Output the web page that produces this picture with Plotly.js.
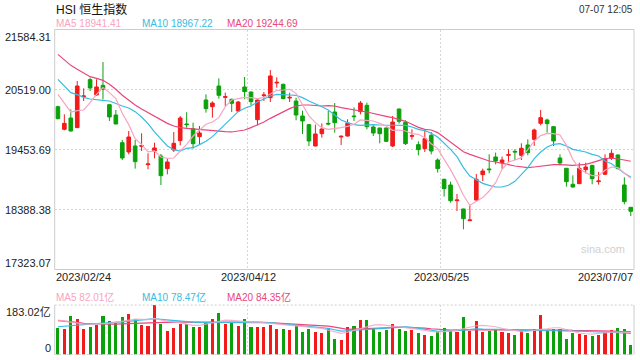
<!DOCTYPE html>
<html><head><meta charset="utf-8">
<script src="https://cdn.plot.ly/plotly-3.0.1.min.js"></script>
<style>html,body{margin:0;padding:0;background:#fff;}#chart{width:640px;height:360px;}</style>
</head><body><div id="chart"></div>
<script>
const titleText = 'HSI 恒生指数';
const timeText = '07-07 12:05';
const dateLabels = ['2023/02/24','2023/04/12','2023/05/25','2023/07/07'];
const priceTicks = [21584.31, 20519.00, 19453.69, 18388.38, 17323.07];
const volTicks = [183.02, 0];
const priceLegend = ['MA5 18941.41', 'MA10 18967.22', 'MA20 19244.69'];
const volLegend = ['MA5 82.01亿', 'MA10 78.47亿', 'MA20 84.35亿'];

const openP = [20214,19812,20013,19842,20392,20694,20422,20593,20250,20066,
19575,19410,19516,19510,19185,19427,19339,19114,19445,19611,
19907,19824,19682,20333,20214,20581,20380,20345,20137,20564,
20475,19984,20410,20374,20635,20611,20368,20315,20049,19895,
19516,19735,19918,20120,19676,19693,20049,20126,20238,19853,
19836,19836,19516,20173,19936,19688,19540,19469,19705,19267,
18924,18824,18545,18398,18190,18557,19007,19108,19321,19220,
19350,19421,19350,19534,19634,19918,19978,19859,19303,19120,
18836,18847,19096,19173,18883,19013,19297,19356,18824,18427];
const highP = [20232,20078,20167,20670,20540,20729,20700,21007,20255,20155,
19623,19782,19623,19741,19386,19575,19374,19291,19765,20049,
20114,19930,19871,20433,20309,20717,20463,20356,20315,20741,
20480,20340,20475,20865,20735,20623,20463,20374,20143,19900,
19895,19918,20137,20279,19705,19990,20202,20315,20285,19883,
19840,19840,20049,20178,19972,19812,19599,19800,19765,19297,
18936,18883,18664,18402,18463,19019,19114,19368,19398,19327,
19457,19457,19563,19634,19824,20155,20001,19865,19368,19125,
18995,19220,19220,19178,19055,19368,19451,19368,18960,18432];
const lowP = [19990,19794,19775,19836,20315,20493,20404,20345,19960,19900,
19268,19368,19114,19427,19102,19297,18824,19013,19410,19528,
19842,19469,19546,20108,20019,20356,20226,20120,20120,20345,
20238,19883,20315,20297,20552,20345,20297,19972,19729,19516,
19510,19664,19883,19753,19534,19682,19960,20078,19812,19693,
19563,19587,19498,19913,19534,19628,19350,19410,19368,19043,
18617,18510,18362,18037,18184,18540,18895,19031,19191,19114,
19232,19267,19267,19350,19516,19883,19753,19516,19173,18794,
18776,18840,19031,18836,18830,19007,19267,19102,18480,18273];
const closeP = [20001,19918,19782,20581,20404,20546,20564,20522,20031,19907,
19303,19676,19238,19522,19197,19481,18989,19232,19563,20013,
19895,19557,19747,20179,20279,20416,20392,20274,20297,20481,
20303,20333,20422,20759,20646,20356,20380,20066,19960,19605,
19729,19818,19907,19930,19688,19918,20037,20279,19859,19747,
19735,19599,19942,19954,19557,19699,19451,19646,19427,19114,
18759,18545,18557,18226,18202,18924,19072,19096,19250,19267,
19362,19410,19475,19398,19800,20019,19913,19605,19214,18883,
18788,19120,19143,18936,18895,19291,19386,19114,18528,18356];
const ma5 = [20433,20268,20120,20143,20155,20285,20433,20552,20463,20356,
20096,19895,19646,19546,19410,19427,19321,19297,19303,19427,
19546,19693,19800,19901,19942,20019,20214,20333,20356,20380,
20374,20356,20374,20433,20504,20510,20522,20451,20256,20049,
19930,19842,19812,19824,19842,19865,19901,19978,19970,19960,
19918,19871,19794,19800,19782,19735,19723,19664,19557,19469,
19279,19096,18883,18640,18463,18528,18599,18717,18865,19102,
19232,19267,19309,19450,19600,19700,19740,19735,19711,19528,
19279,19114,19040,18990,18990,19084,19143,19131,19043,18941];
const ma10 = [20700,20581,20463,20427,20380,20350,20333,20327,20315,20268,
20226,20191,20126,20031,19913,19765,19646,19516,19451,19427,
19475,19486,19540,19599,19682,19794,19918,20031,20126,20185,
20226,20297,20356,20404,20433,20433,20421,20416,20374,20315,
20268,20214,20155,20072,19978,19930,19895,19883,19895,19895,
19889,19889,19889,19889,19883,19853,19812,19788,19741,19676,
19575,19457,19327,19131,18983,18912,18853,18818,18788,18788,
18818,18889,19013,19131,19291,19410,19498,19546,19558,19516,
19457,19439,19410,19368,19339,19250,19202,19114,19031,18967];
const ma20 = [21143,21043,20948,20877,20806,20747,20717,20682,20611,20522,
20416,20327,20244,20173,20108,20043,19984,19918,19871,19842,
19830,19818,19806,19794,19782,19776,19771,19765,19776,19800,
19842,19889,19942,20007,20066,20120,20179,20226,20244,20244,
20232,20226,20232,20226,20197,20173,20161,20137,20120,20090,
20066,20043,20019,19990,19954,19901,19847,19812,19800,19753,
19670,19587,19498,19415,19368,19327,19285,19250,19232,19202,
19185,19161,19143,19131,19143,19161,19179,19185,19185,19173,
19173,19179,19191,19220,19256,19291,19303,19291,19267,19245];
const volume = [97.7,94,142,131,94,101,109,142,124,116,
138,150,131,109,105,183.02,112.5,86.6,97.7,112.5,
112.5,101,101,116,131,153,112.5,120,105,131,
101,101,101,109,94,94,90,109,83,94,
83,79,97.7,57,53,101,105,127,127,94,
83,90,112.5,94,86.6,90,79,72,68,86.6,
97.7,86.6,83,138,86.6,124,83,86.6,90,83,
79,72,86.6,79,94,146,86.6,94,94,57,
79,75,72,68,72,83,90,97.7,94,35];
const vma5 = [127.4,123.7,120.0,116.2,112.5,112.5,112.5,113.8,115.0,118.7,
123.7,128.6,131.1,129.8,128.6,133.6,127.4,122.4,121.2,117.5,
112.5,107.6,107.6,112.5,120.0,124.9,127.4,126.1,123.7,122.4,
120.0,120.0,117.5,115.0,112.5,112.5,110.1,107.6,105.1,102.6,
98.9,96.5,90.3,84.1,77.9,82.9,89.0,95.2,102.6,108.8,
110.1,107.6,106.3,102.6,100.2,96.5,92.7,87.8,85.3,82.9,
84.1,86.6,90.3,96.5,102.6,106.3,107.6,106.3,102.6,96.5,
92.7,87.8,84.1,85.3,90.3,92.7,95.2,98.9,98.9,92.7,
84.1,79.1,76.7,75.4,77.9,81.6,82.9,82.9,81.6,82.01];
const vma10 = [102.6,105.1,106.3,108.8,111.3,112.5,113.8,115.0,116.2,118.7,
120.0,122.4,124.9,127.4,129.8,132.3,129.8,127.4,124.9,122.4,
120.0,120.0,118.7,118.7,117.5,117.5,117.5,117.5,117.5,117.5,
117.5,117.5,117.5,117.5,115.0,112.5,110.1,107.6,105.1,103.9,
101.4,100.2,96.5,91.5,86.6,87.8,89.0,91.5,94.0,95.2,
96.5,97.7,100.2,101.4,102.6,100.2,97.7,95.2,90.3,85.3,
86.0,85.3,87.8,90.3,92.7,95.2,94.0,94.0,92.7,92.7,
92.7,91.5,90.3,89.0,89.0,87.8,87.8,87.8,87.8,87.8,
87.8,86.6,85.3,84.1,84.1,82.9,81.6,80.4,79.1,78.47];
const vma20 = [124.9,123.7,121.2,118.7,115.0,113.8,112.5,112.5,112.5,112.5,
112.5,113.8,115.0,116.2,117.5,118.7,120.0,120.0,120.0,120.0,
120.0,120.0,121.2,121.2,122.4,122.4,122.4,121.2,121.2,120.0,
120.0,120.0,118.7,117.5,116.2,115.0,112.5,111.3,110.1,108.8,
107.6,107.6,105.1,101.4,97.7,92.7,94.0,95.2,96.5,97.7,
97.7,98.9,98.9,100.2,100.2,100.2,98.9,97.7,95.2,92.7,
90.3,90.3,91.5,91.5,92.7,92.7,92.7,92.7,92.7,92.7,
92.7,92.7,92.7,92.7,92.7,92.7,91.5,91.5,90.3,90.3,
89.0,89.0,87.8,87.8,87.8,86.6,86.6,85.3,85.3,84.35];

const idx = openP.map((_, i) => i);
const RED = '#f21b1b', GREEN = '#0ba10b';
const C5 = '#f8a5c2', C10 = '#36bde0', C20 = '#e9467c';
const FONT = 'Liberation Sans, Arial, Noto Sans CJK SC, sans-serif';
const volColors = idx.map(i => closeP[i] >= openP[i] ? RED : GREEN);

const X0 = 54.7/640, X1 = 634/640;
const PY = [(360-269.5)/360, (360-29.5)/360];
const VY = [(360-354.5)/360, (360-305)/360];
const px = v => v/640, py = v => (360 - v)/360;

const traces = [
  {type:'candlestick', x: idx, open: openP, high: highP, low: lowP, close: closeP,
   xaxis:'x', yaxis:'y', hoverinfo:'skip', whiskerwidth: 0,
   increasing:{line:{color:RED, width:1}, fillcolor:RED},
   decreasing:{line:{color:GREEN, width:1}, fillcolor:GREEN}},
  {type:'scatter', mode:'lines', x: idx, y: ma20, line:{color:C20, width:1.2}, xaxis:'x', yaxis:'y', hoverinfo:'skip'},
  {type:'scatter', mode:'lines', x: idx, y: ma10, line:{color:C10, width:1.2}, xaxis:'x', yaxis:'y', hoverinfo:'skip'},
  {type:'scatter', mode:'lines', x: idx, y: ma5, line:{color:C5, width:1.2}, xaxis:'x', yaxis:'y', hoverinfo:'skip'},
  {type:'bar', x: idx, y: volume, width: 0.48, marker:{color: volColors, line:{width:0}}, xaxis:'x2', yaxis:'y2', hoverinfo:'skip'},
  {type:'scatter', mode:'lines', x: idx, y: vma20, line:{color:C20, width:1.2}, xaxis:'x2', yaxis:'y2', hoverinfo:'skip'},
  {type:'scatter', mode:'lines', x: idx, y: vma10, line:{color:C10, width:1.2}, xaxis:'x2', yaxis:'y2', hoverinfo:'skip'},
  {type:'scatter', mode:'lines', x: idx, y: vma5, line:{color:C5, width:1.2, }, opacity:0.85, xaxis:'x2', yaxis:'y2', hoverinfo:'skip'}
];

const n = idx.length;
const gridX = [n/3 - 0.5, 2*n/3 - 0.5];
const GRID = '#d6d6d6';
const axBase = {showticklabels:false, ticks:'', zeroline:false, fixedrange:true};

const annotations = [];
function txt(text, x, y, xanchor, yanchor, size, color, extra) {
  annotations.push(Object.assign({text, x, y, xref:'paper', yref:'paper', xanchor, yanchor,
    showarrow:false, font:{family:FONT, size, color}, borderpad:0}, extra||{}));
}
txt(titleText, px(55), py(9), 'left', 'middle', 12, '#111');
txt(timeText, px(634), py(9), 'right', 'middle', 10, '#333');
const legendX = [55, 141, 226], legendC = [C5, C10, C20];
priceLegend.forEach((t, i) => txt(t, px(legendX[i]), py(24), 'left', 'middle', 10, legendC[i]));
volLegend.forEach((t, i) => txt(t, px(legendX[i]), py(297), 'left', 'middle', 10, legendC[i]));
priceTicks.forEach((v, i) => {
  const ya = i === 0 ? 'top' : (i === priceTicks.length - 1 ? 'bottom' : 'middle');
  annotations.push({text: v.toFixed(2), x: px(52), xref:'paper', y: v, yref:'y', xanchor:'right', yanchor: ya,
    showarrow:false, borderpad:0, font:{family:FONT, size:11, color:'#222'}});
});
volTicks.forEach((v, i) => {
  annotations.push({text: i === 0 ? v.toFixed(2) + '亿' : String(v), x: px(52), xref:'paper', y: v, yref:'y2',
    xanchor:'right', yanchor: i === 0 ? 'top' : 'bottom', showarrow:false, borderpad:0,
    font:{family:FONT, size:11, color:'#222'}});
});
const dateX = [54.7, 248, 441, 634], dateA = ['left','center','center','right'];
dateLabels.forEach((t, i) => txt(t, px(dateX[i]), py(277), dateA[i], 'middle', 11, '#222'));
txt('sina.com', px(603), py(249), 'center', 'middle', 11, '#d0d0d0');

const shapes = [
  {type:'rect', xref:'paper', yref:'paper', x0:X0, x1:X1, y0:PY[0], y1:PY[1], line:{color:'#cccccc', width:1}},
  {type:'line', xref:'paper', yref:'paper', x0:X0, x1:X1, y0:VY[1], y1:VY[1], line:{color:'#cfcfcf', width:1, dash:'2px,2px'}},
  {type:'line', xref:'paper', yref:'paper', x0:X0, x1:X1, y0:VY[0], y1:VY[0], line:{color:'#cfcfcf', width:1, dash:'2px,2px'}},
  {type:'line', xref:'paper', yref:'paper', x0:X0, x1:X0, y0:VY[0], y1:VY[1], line:{color:'#cccccc', width:1}},
  {type:'line', xref:'paper', yref:'paper', x0:X1, x1:X1, y0:VY[0], y1:VY[1], line:{color:'#cccccc', width:1}}
];

const layout = {
  width:640, height:360, margin:{l:0, r:0, t:0, b:0}, showlegend:false,
  paper_bgcolor:'#fff', plot_bgcolor:'#fff', boxgap:0.25, boxgroupgap:0.25, bargap:0,
  xaxis: Object.assign({}, axBase, {domain:[X0, X1], range:[-0.5, n - 0.5], anchor:'y',
    rangeslider:{visible:false}, tickmode:'array', tickvals: gridX, showgrid:true,
    gridcolor:GRID, gridwidth:1, griddash:'2px,2px'}),
  yaxis: Object.assign({}, axBase, {domain:PY, range:[priceTicks[4], priceTicks[0]], anchor:'x',
    tickmode:'array', tickvals: priceTicks.slice(1, 4), showgrid:true, gridcolor:GRID, gridwidth:1, griddash:'2px,2px'}),
  xaxis2: Object.assign({}, axBase, {domain:[X0, X1], range:[-0.5, n - 0.5], anchor:'y2',
    tickmode:'array', tickvals: gridX, showgrid:true, gridcolor:GRID, gridwidth:1, griddash:'2px,2px'}),
  yaxis2: Object.assign({}, axBase, {domain:VY, range:[volTicks[1], volTicks[0]], anchor:'x2', showgrid:false}),
  annotations, shapes
};
Plotly.newPlot('chart', traces, layout, {displayModeBar:false, staticPlot:true});
</script></body></html>
